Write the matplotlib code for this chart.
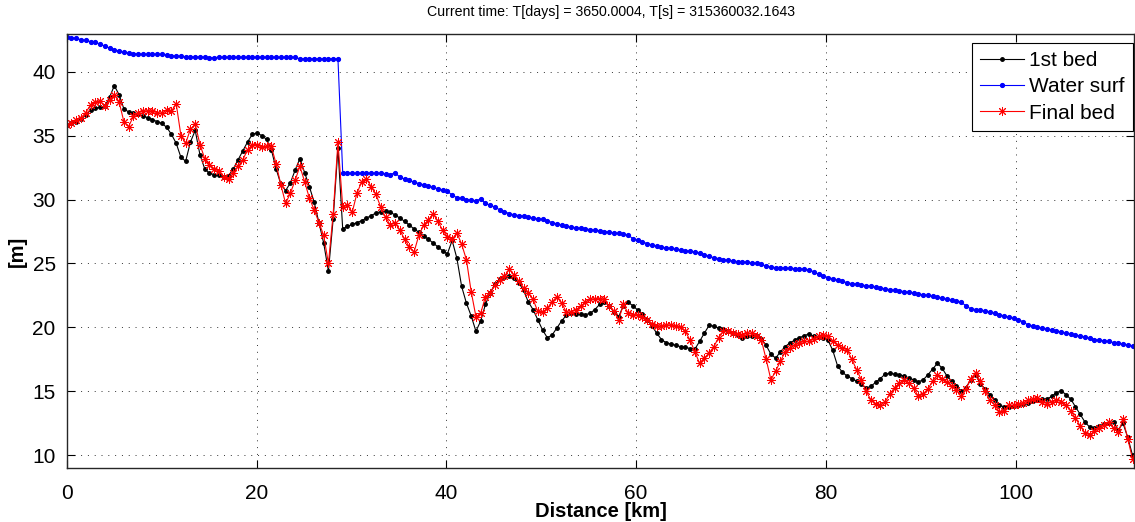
import numpy as np
import matplotlib.pyplot as plt

plt.rcParams['font.family'] = ['Liberation Sans', 'DejaVu Sans']

# levels along the reach [m], one value every ~0.5 km (10 values per row = 5 km)
first_bed = [
    35.8, 35.95, 36.1, 36.3, 36.6, 37.0, 37.15, 37.2, 37.3, 38.0,
    38.9, 38.2, 37.1, 36.85, 36.75, 36.65, 36.55, 36.4, 36.25, 36.1,
    35.95, 35.65, 35.1, 34.4, 33.3, 33.0, 34.5, 35.4, 33.5, 32.4,
    32.05, 31.95, 31.9, 31.8, 31.85, 32.4, 33.1, 33.8, 34.5, 35.1,
    35.2, 35.0, 34.7, 33.9, 32.4, 31.2, 30.7, 31.3, 32.3, 33.2,
    32.1, 31.0, 29.8, 28.2, 26.6, 24.4, 28.5, 34.0, 27.7, 27.9,
    28.05, 28.2, 28.35, 28.55, 28.75, 28.95, 29.05, 29.1, 29.0, 28.8,
    28.55, 28.3, 28.0, 27.7, 27.45, 27.15, 26.9, 26.6, 26.3, 26.0,
    25.75, 26.8, 25.4, 23.2, 21.9, 20.9, 19.7, 20.5, 21.8, 22.7,
    23.4, 23.75, 23.95, 24.05, 23.85, 23.5, 22.9, 22.0, 21.4, 20.6,
    19.8, 19.2, 19.4, 19.95, 20.5, 20.95, 21.1, 21.08, 21.05, 21.0,
    21.1, 21.4, 21.8, 22.0, 21.7, 21.2, 20.85, 21.7, 21.95, 21.7,
    21.35, 21.05, 20.6, 20.1, 19.55, 19.05, 18.8, 18.7, 18.6, 18.5,
    18.45, 18.35, 18.3, 18.9, 19.55, 20.15, 20.1, 19.95, 19.85, 19.7,
    19.55, 19.4, 19.2, 19.3, 19.35, 19.3, 19.1, 18.6, 17.9, 17.6,
    18.1, 18.5, 18.8, 19.0, 19.2, 19.35, 19.5, 19.3, 19.25, 19.15,
    19.0, 18.2, 17.0, 16.5, 16.2, 16.0, 15.8, 15.55, 15.25, 15.4,
    15.7, 16.0, 16.35, 16.4, 16.35, 16.3, 16.2, 16.05, 15.9, 15.75,
    15.9, 16.3, 16.75, 17.2, 16.8, 16.2, 15.8, 15.4, 15.0, 15.3,
    15.9, 16.3, 15.6, 15.2, 14.75, 14.35, 13.9, 13.8, 13.8, 13.85,
    13.9, 14.0, 14.1, 14.25, 14.35, 14.38, 14.4, 14.6, 14.9, 15.05,
    14.75, 14.4, 13.8, 13.2, 12.6, 12.2, 12.15, 12.3, 12.45, 12.55,
    12.6, 12.0, 12.5, 11.4, 10.0,
]

water_surf = [
    42.7, 42.65, 42.6, 42.5, 42.45, 42.35, 42.3, 42.15, 42.0, 41.85,
    41.7, 41.6, 41.5, 41.45, 41.4, 41.38, 41.35, 41.35, 41.35, 41.35,
    41.35, 41.3, 41.25, 41.2, 41.2, 41.15, 41.15, 41.15, 41.15, 41.12,
    41.1, 41.1, 41.12, 41.12, 41.12, 41.12, 41.12, 41.12, 41.12, 41.12,
    41.12, 41.12, 41.12, 41.12, 41.12, 41.12, 41.12, 41.12, 41.12, 41.0,
    41.0, 41.0, 41.0, 41.0, 41.0, 41.0, 41.0, 41.0, 32.1, 32.05,
    32.05, 32.05, 32.05, 32.05, 32.05, 32.05, 32.05, 32.0, 31.95, 32.1,
    31.75, 31.6, 31.5, 31.35, 31.25, 31.15, 31.05, 30.95, 30.85, 30.75,
    30.65, 30.35, 30.15, 30.1, 30.0, 29.95, 29.9, 30.05, 29.7, 29.55,
    29.4, 29.2, 29.05, 28.9, 28.8, 28.75, 28.7, 28.6, 28.55, 28.5,
    28.45, 28.35, 28.2, 28.1, 28.0, 27.9, 27.85, 27.8, 27.75, 27.7,
    27.65, 27.6, 27.55, 27.5, 27.45, 27.4, 27.35, 27.3, 27.2, 26.95,
    26.8, 26.7, 26.55, 26.45, 26.35, 26.28, 26.22, 26.18, 26.12, 26.05,
    26.0, 25.95, 25.9, 25.82, 25.7, 25.55, 25.45, 25.38, 25.3, 25.25,
    25.2, 25.15, 25.12, 25.08, 25.05, 25.0, 24.92, 24.8, 24.72, 24.68,
    24.66, 24.64, 24.62, 24.6, 24.58, 24.55, 24.5, 24.35, 24.15, 24.02,
    23.9, 23.8, 23.7, 23.6, 23.5, 23.42, 23.38, 23.32, 23.26, 23.2,
    23.15, 23.08, 23.02, 22.95, 22.9, 22.85, 22.8, 22.75, 22.7, 22.62,
    22.55, 22.5, 22.42, 22.35, 22.3, 22.2, 22.12, 22.05, 21.95, 21.7,
    21.45, 21.4, 21.35, 21.28, 21.2, 21.1, 21.0, 20.9, 20.8, 20.7,
    20.6, 20.45, 20.2, 20.1, 20.0, 19.95, 19.88, 19.8, 19.72, 19.65,
    19.55, 19.48, 19.4, 19.32, 19.25, 19.15, 19.05, 19.0, 18.95, 18.9,
    18.82, 18.75, 18.7, 18.62, 18.55,
]

final_bed = [
    35.8, 36.0, 36.2, 36.4, 36.8, 37.4, 37.65, 37.7, 37.3, 37.8,
    38.2, 37.65, 36.1, 35.7, 36.5, 36.8, 36.9, 36.95, 36.9, 36.8,
    36.75, 37.0, 36.9, 37.5, 35.0, 34.4, 35.5, 35.9, 34.3, 33.2,
    32.7, 32.4, 32.2, 31.8, 31.6, 32.05, 32.6, 33.1, 33.9, 34.3,
    34.3, 34.1, 34.15, 34.15, 32.8, 31.15, 29.7, 30.5, 31.5, 32.6,
    31.4, 30.1, 29.2, 28.2, 27.2, 25.0, 28.9, 34.5, 29.45, 29.6,
    29.0, 30.5, 31.4, 31.6, 31.0, 30.4, 29.4, 28.6, 28.0, 28.2,
    27.6, 26.9, 26.3, 25.9, 27.2, 28.0, 28.4, 28.9, 28.3, 27.6,
    27.1, 26.9, 27.4, 26.5, 25.3, 22.8, 20.85, 21.1, 22.4, 22.7,
    23.3, 23.7, 24.0, 24.55, 24.1, 23.6, 23.1, 22.7, 22.2, 21.25,
    21.2, 21.5, 22.0, 22.4, 21.9, 21.2, 21.2, 21.4, 21.65, 22.0,
    22.2, 22.25, 22.25, 22.2, 21.65, 21.25, 20.6, 21.8, 21.1, 21.0,
    21.0, 20.8, 20.6, 20.3, 20.1, 20.1, 20.2, 20.2, 20.1, 20.0,
    19.7, 19.0, 18.1, 17.2, 17.6, 18.0, 18.5, 19.2, 19.7, 19.7,
    19.55, 19.5, 19.4, 19.55, 19.55, 19.3, 19.0, 17.5, 15.9, 16.6,
    17.35, 18.1, 18.4, 18.65, 18.8, 18.9, 18.9, 19.1, 19.3, 19.4,
    19.3, 18.9, 18.65, 18.4, 18.25, 17.5, 16.7, 15.9, 15.0, 14.35,
    14.0, 13.95, 14.2, 14.8, 15.3, 15.65, 15.85, 15.65, 15.25, 14.6,
    14.8, 15.2, 15.8, 16.3, 16.0, 15.7, 15.4, 15.1, 14.6, 15.2,
    16.0, 16.45, 15.8, 15.0, 14.3, 13.95, 13.4, 13.5, 13.9, 13.9,
    14.0, 14.1, 14.3, 14.4, 14.5, 14.2, 14.05, 14.2, 14.35, 14.2,
    13.9, 13.5, 12.9, 12.3, 11.75, 11.6, 11.9, 12.15, 12.4, 12.6,
    12.1, 11.8, 12.8, 11.3, 9.7,
]

series_names = ['1st bed', 'Water surf', 'Final bed']
dist = np.linspace(0, 112.3, len(first_bed))  # km

fig = plt.figure(figsize=(11.35, 5.22), dpi=100)
ax = fig.add_axes([0.0588, 0.104, 0.9407, 0.8303])

ax.plot(dist, first_bed, '.-', color='k', lw=0.8, ms=5, label=series_names[0])
ax.plot(dist, water_surf, '.-', color='b', lw=0.8, ms=5.5, label=series_names[1])
ax.plot(dist, final_bed, '-', color='r', marker=(8, 2, 0), lw=0.8, ms=6.5,
        mew=0.7, label=series_names[2])

ax.set_xlim(0, 112.5)
ax.set_ylim(9.03, 42.92)
ax.set_xticks([0, 20, 40, 60, 80, 100])
ax.set_yticks([10, 15, 20, 25, 30, 35, 40])
ax.grid(True, color='0.2', linestyle=(0, (1, 6)), linewidth=0.7)

ax.tick_params(direction='in', top=True, right=True, length=6, width=0.8,
               labelsize=15, pad=8)
ax.tick_params(axis='x', pad=12)
for sp in ax.spines.values():
    sp.set_linewidth(1.0)
    sp.set_color('0.15')

ax.set_xlabel('Distance [km]', fontsize=14.5, fontweight='bold', labelpad=-1)
ax.set_ylabel('[m]', fontsize=14.5, fontweight='bold', labelpad=4)

leg = ax.legend(loc='upper right', bbox_to_anchor=(0.9986, 0.9806),
                borderaxespad=0, fontsize=15, fancybox=False, framealpha=1,
                edgecolor='k', handlelength=2.1, handletextpad=0.25,
                labelspacing=0.35, borderpad=0.4)
leg.get_frame().set_linewidth(0.8)

fig.text(0.538, 0.977, 'Current time: T[days] = 3650.0004, T[s] = 315360032.1643',
         ha='center', va='center', fontsize=10.2)

fig.savefig('out.png', dpi=100)
